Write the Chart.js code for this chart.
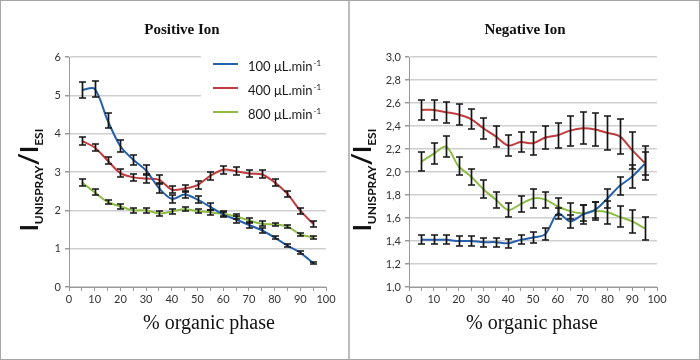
<!DOCTYPE html>
<html>
<head>
<meta charset="utf-8">
<script src="https://cdn.jsdelivr.net/npm/chart.js@4.4.1/dist/chart.umd.min.js"></script>
<style>
  html, body { margin: 0; padding: 0; background: #fff; }
  #wrap { position: relative; width: 700px; height: 360px; overflow: hidden; }
  #wrap canvas { position: absolute; top: 0; }
  #posChart { left: 0; }
  #negChart { left: 350px; }
  .frame { position: absolute; inset: 0; border: 1px solid #a6a6a6; pointer-events: none; }
  .divider { position: absolute; left: 348px; top: 0; width: 2px; height: 360px; background: #bdbdbd; }
</style>
</head>
<body>
<div id="wrap">
  <canvas id="posChart" width="348" height="360"></canvas>
  <canvas id="negChart" width="350" height="360"></canvas>
  <div class="divider"></div>
  <div class="frame"></div>
</div>
<script>
// ===== DATA =====
const organicPct = [5, 10, 15, 20, 25, 30, 35, 40, 45, 50, 55, 60, 65, 70, 75, 80, 85, 90, 95];
const flowLabels = ["100 μL.min", "400 μL.min", "800 μL.min"];
const flowColors = ["#2661ad", "#c23b3e", "#8fbc45"];

// positive ion
const pos100 = [5.14, 5.17, 4.35, 3.67, 3.32, 3.04, 2.58, 2.30, 2.41, 2.28, 2.09, 1.89, 1.76, 1.62, 1.48, 1.29, 1.08, 0.89, 0.63];
const pos100Err = [0.21, 0.21, 0.19, 0.16, 0.13, 0.13, 0.13, 0.10, 0.10, 0.10, 0.09, 0.07, 0.08, 0.07, 0.07, 0.05, 0.04, 0.04, 0.03];
const pos400 = [3.81, 3.64, 3.30, 2.97, 2.86, 2.83, 2.80, 2.54, 2.57, 2.66, 2.90, 3.06, 3.02, 2.96, 2.94, 2.73, 2.43, 1.99, 1.65];
const pos400Err = [0.10, 0.10, 0.10, 0.10, 0.10, 0.12, 0.12, 0.10, 0.10, 0.10, 0.10, 0.10, 0.10, 0.10, 0.10, 0.10, 0.08, 0.08, 0.08];
const pos800 = [2.73, 2.47, 2.22, 2.10, 2.00, 2.00, 1.92, 1.97, 2.03, 1.98, 1.95, 1.91, 1.84, 1.74, 1.65, 1.63, 1.58, 1.37, 1.30];
const pos800Err = [0.09, 0.08, 0.06, 0.06, 0.06, 0.06, 0.06, 0.06, 0.06, 0.06, 0.07, 0.06, 0.06, 0.06, 0.06, 0.05, 0.05, 0.04, 0.04];

// negative ion
const neg100 = [1.41, 1.41, 1.41, 1.40, 1.40, 1.39, 1.39, 1.38, 1.41, 1.43, 1.46, 1.64, 1.57, 1.63, 1.67, 1.77, 1.88, 1.96, 2.07];
const neg100Err = [0.04, 0.04, 0.04, 0.04, 0.04, 0.04, 0.04, 0.04, 0.04, 0.05, 0.05, 0.05, 0.06, 0.08, 0.07, 0.08, 0.08, 0.10, 0.10];
const neg400 = [2.54, 2.54, 2.52, 2.50, 2.46, 2.38, 2.31, 2.23, 2.26, 2.25, 2.30, 2.32, 2.36, 2.38, 2.37, 2.34, 2.31, 2.19, 2.08];
const neg400Err = [0.09, 0.09, 0.09, 0.09, 0.09, 0.09, 0.09, 0.09, 0.09, 0.10, 0.10, 0.11, 0.13, 0.14, 0.14, 0.15, 0.15, 0.16, 0.15];
const neg800 = [2.09, 2.16, 2.22, 2.05, 1.96, 1.85, 1.76, 1.67, 1.72, 1.77, 1.76, 1.70, 1.66, 1.64, 1.66, 1.65, 1.61, 1.57, 1.51];
const neg800Err = [0.08, 0.09, 0.09, 0.08, 0.07, 0.08, 0.07, 0.06, 0.07, 0.08, 0.07, 0.07, 0.07, 0.07, 0.08, 0.10, 0.09, 0.10, 0.10];

const xTitle = "% organic phase";

// ===== PLUGINS =====
const errorBars = {
  id: "errorBars",
  afterDatasetsDraw(chart) {
    const { ctx } = chart;
    const y = chart.scales.y;
    ctx.save();
    ctx.strokeStyle = "#151515";
    ctx.lineWidth = 1.7;
    chart.data.datasets.forEach((ds, di) => {
      const meta = chart.getDatasetMeta(di);
      meta.data.forEach((pt, i) => {
        const v = ds.data[i].y, e = ds.errors[i];
        const top = Math.round(y.getPixelForValue(v + e)), bot = Math.round(y.getPixelForValue(v - e));
        const x = Math.round(pt.x) + 0.5;
        ctx.beginPath();
        ctx.moveTo(x, top); ctx.lineTo(x, bot);
        ctx.moveTo(x - 3.5, top); ctx.lineTo(x + 3.5, top);
        ctx.moveTo(x - 3.5, bot); ctx.lineTo(x + 3.5, bot);
        ctx.stroke();
      });
    });
    ctx.restore();
  }
};

const deco = {
  id: "deco",
  beforeDatasetsDraw(chart, args, opts) {
    // white box behind the legend hides the grid lines
    if (!opts.legend) return;
    const ctx = chart.ctx;
    ctx.save();
    ctx.fillStyle = "#fff";
    ctx.fillRect(opts.legend.x - 12, opts.legend.y - 12, chart.chartArea.right - opts.legend.x + 14, 70);
    ctx.restore();
  },
  afterDraw(chart, args, opts) {
    const ctx = chart.ctx;
    ctx.save();
    ctx.fillStyle = "#111";
    ctx.textAlign = "center";
    ctx.textBaseline = "middle";

    // title
    ctx.font = "bold 15px 'Liberation Serif', 'DejaVu Serif', serif";
    ctx.fillText(opts.title, opts.titleX, 30);

    // x title
    ctx.font = "20px 'Liberation Serif', 'DejaVu Serif', serif";
    ctx.fillText(xTitle, opts.xTitleX, 324);

    // y title with subscripts
    const parts = [
      { t: "I", f: "bold 24px Lato", dy: 0 },
      { t: "UNISPRAY", f: "bold 12px Lato", dy: 5 },
      { t: "/", f: "bold 27px Lato", dy: 0 },
      { t: "I", f: "bold 24px Lato", dy: 0 },
      { t: "ESI", f: "bold 12px Lato", dy: 5 }
    ];
    let total = 0;
    parts.forEach(p => { ctx.font = p.f; p.w = ctx.measureText(p.t).width; total += p.w; });
    ctx.translate(opts.yTitleX, 180);
    ctx.rotate(-Math.PI / 2);
    ctx.textAlign = "left";
    ctx.textBaseline = "alphabetic";
    let cx = -total / 2;
    parts.forEach(p => { ctx.font = p.f; ctx.fillText(p.t, cx, p.dy); cx += p.w; });
    ctx.setTransform(1, 0, 0, 1, 0, 0);

    // legend
    if (opts.legend) {
      const lx = opts.legend.x, ly = opts.legend.y;
      chart.data.datasets.forEach((ds, i) => {
        const yy = ly + i * 24;
        ctx.strokeStyle = ds.borderColor;
        ctx.lineWidth = 2;
        ctx.beginPath();
        ctx.moveTo(lx, yy); ctx.lineTo(lx + 25, yy);
        ctx.stroke();
        ctx.fillStyle = "#1a1a1a";
        ctx.textAlign = "left";
        ctx.textBaseline = "middle";
        ctx.font = "13px Lato";
        ctx.fillText(ds.label, lx + 35, yy + 3);
        const w = ctx.measureText(ds.label).width;
        ctx.font = "8px Lato";
        ctx.fillText("-1", lx + 35 + w + 1, yy - 1);
      });
    }
    ctx.restore();
  }
};

// ===== CHARTS =====
function makeDatasets(values, errors) {
  return values.map((vals, idx) => ({
    label: flowLabels[idx],
    data: organicPct.map((x, i) => ({ x: x, y: vals[i] })),
    errors: errors[idx],
    borderColor: flowColors[idx],
    backgroundColor: flowColors[idx],
    borderWidth: 2,
    pointRadius: 0,
    tension: 0.3,
    fill: false
  }));
}

function makeChart(id, datasets, y, area, decoOpts) {
  const tickFont = { family: "Lato", size: 11 };
  return new Chart(document.getElementById(id), {
    type: "line",
    data: { datasets: datasets },
    plugins: [errorBars, deco],
    options: {
      responsive: false,
      animation: false,
      devicePixelRatio: 1,
      layout: { padding: { left: 0, top: area.top, right: area.right, bottom: 360 - area.bottom - 20 } },
      plugins: { legend: { display: false }, tooltip: { enabled: false }, deco: decoOpts },
      scales: {
        x: {
          type: "linear", min: 0, max: 100,
          afterFit: s => { s.height = 20; },
          ticks: {
            stepSize: 5, autoSkip: false, maxRotation: 0, padding: 2,
            color: "#333", font: tickFont,
            callback: v => (v % 10 === 0 ? v : "")
          },
          grid: { drawOnChartArea: false, drawTicks: true, tickLength: 4, tickColor: "#9a9a9a" },
          border: { color: "#9a9a9a", width: 1 }
        },
        y: {
          min: y.min, max: y.max,
          afterFit: s => { s.width = area.left; },
          ticks: {
            stepSize: y.step, padding: 4, color: "#333", font: tickFont,
            callback: y.format
          },
          grid: { color: "#cfcfcf", lineWidth: 1.5, tickLength: 4, tickColor: "#9a9a9a" },
          border: { color: "#9a9a9a", width: 1 }
        }
      }
    }
  });
}

makeChart("posChart",
  makeDatasets([pos100, pos400, pos800], [pos100Err, pos400Err, pos800Err]),
  { min: 0, max: 6, step: 1, format: v => v },
  { left: 69, right: 22, top: 57, bottom: 287 },
  { title: "Positive Ion", titleX: 182, xTitleX: 209, yTitleX: 38, legend: { x: 213, y: 64 } }
);

makeChart("negChart",
  makeDatasets([neg100, neg400, neg800], [neg100Err, neg400Err, neg800Err]),
  { min: 1, max: 3, step: 0.2, format: v => v.toFixed(1).replace(".", ",") },
  { left: 59, right: 43, top: 57, bottom: 287 },
  { title: "Negative Ion", titleX: 175, xTitleX: 182, yTitleX: 21, legend: null }
);
</script>
</body>
</html>
